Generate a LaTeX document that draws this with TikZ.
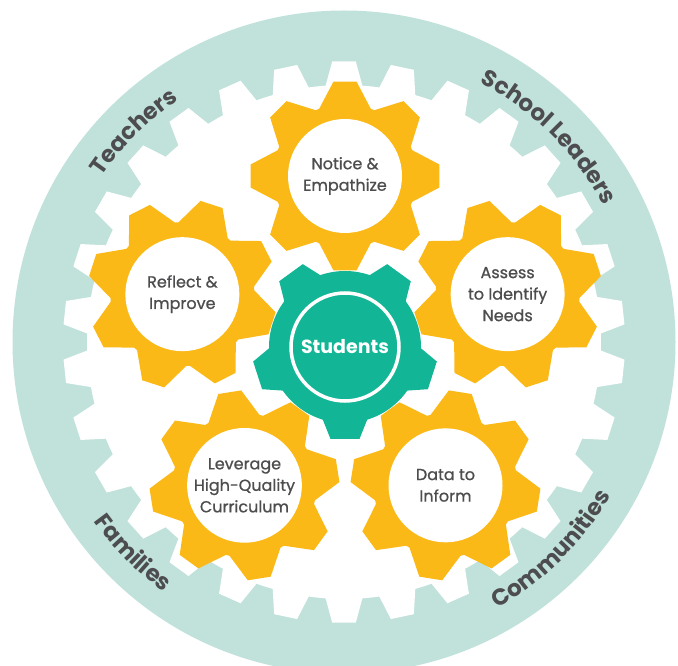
\documentclass[tikz,border=0pt]{standalone}
\usepackage{fontspec}
\setmainfont{Poppins}
\newfontfamily\gearfont{Poppins}[FakeBold=0.8]
\usetikzlibrary{calc,decorations.text}

\definecolor{ringteal}{RGB}{192,226,219}
\definecolor{gearyellow}{RGB}{251,185,23}
\definecolor{hubteal}{RGB}{18,182,150}
\definecolor{labelgrey}{RGB}{77,77,79}

\newcommand{\ringfont}{\fontsize{23}{27}\selectfont\bfseries}

% gear outline: colour, centre, teeth, tip radius, root radius, tip half angle, base half angle, first tooth
\newcommand{\gearshape}[8]{%
  \fill[#1, shift={(#2)}] ({#8-#7}:#5)
    \foreach \k in {1,...,#3} {
      -- ({#8+(\k-1)*360/#3-#7}:#5) -- ({#8+(\k-1)*360/#3-#6}:#4)
      -- ({#8+(\k-1)*360/#3+#6}:#4) -- ({#8+(\k-1)*360/#3+#7}:#5)
      arc[start angle={#8+(\k-1)*360/#3+#7}, delta angle={360/#3-2*#7}, radius=#5]
    } -- cycle;}

\begin{document}
\begin{tikzpicture}
      [
        x = 1pt, y = 1pt,
        gearhole/.style = {circle, fill=white, minimum size=114pt, inner sep=0pt, align=center,
            text=labelgrey, font=\gearfont\fontsize{16}{21.5}\selectfont},
        hubhole/.style = {circle, draw=white, line width=3.5pt, minimum size=108pt, inner sep=0pt,
            text=white, font=\fontsize{19}{22}\selectfont\bfseries},
        ringlabel/.style = {decorate, decoration={text along path, text align=center, text color=labelgrey}},
      ]

      \useasboundingbox (0,0) rectangle (678,665);
      \fill[white] (0,0) rectangle (678,665);

      \coordinate (ring) at (344,323);
      \coordinate (hub) at (345,318);
      \coordinate (notice) at ($(hub)+(90:171)$);
      \coordinate (assess) at ($(hub)+(18:171)$);
      \coordinate (reflect) at ($(hub)+(162:171)$);
      \coordinate (leverage) at ($(hub)+(234:171)$);
      \coordinate (data) at ($(hub)+(306:171)$);

      % outer band and big white gear
      \fill[ringteal] (ring) circle[radius=331.5];
      \gearshape{white}{ring}{30}{281}{257}{2.4}{4.1}{90}

      % yellow gears, one tooth towards the hub
      \gearshape{gearyellow}{notice}{8}{95}{72}{7}{21}{270}
      \gearshape{gearyellow}{assess}{8}{95}{72}{7}{21}{198}
      \gearshape{gearyellow}{reflect}{8}{95}{72}{7}{21}{342}
      \gearshape{gearyellow}{leverage}{8}{95}{72}{7}{21}{54}
      \gearshape{gearyellow}{data}{8}{95}{72}{7}{21}{126}

      % centre gear
      \gearshape{hubteal}{hub}{5}{93}{76}{9}{17}{270}

      \node[gearhole] (noticetext) at (notice) {Notice \&\\Empathize};
      \node[gearhole] (assesstext) at (assess) {Assess\\to Identify\\Needs};
      \node[gearhole] (reflecttext) at (reflect) {Reflect \&\\Improve};
      \node[gearhole] (leveragetext) at (leverage) {Leverage\\High-Quality\\Curriculum};
      \node[gearhole] (datatext) at (data) {Data to\\Inform};
      \node[hubhole, fill=hubteal] (students) at (hub) {Students};

      % labels round the band
      \path[ringlabel, decoration={text={|\ringfont|Teachers}}]
        ($(ring)+(165:293)$) arc[start angle=165, end angle=105, radius=293];
      \path[ringlabel, decoration={text={|\ringfont|School Leaders}}]
        ($(ring)+(80:293)$) arc[start angle=80, end angle=10, radius=293];
      \path[ringlabel, decoration={text={|\ringfont|Families}}]
        ($(ring)+(195:308)$) arc[start angle=195, end angle=255, radius=308];
      \path[ringlabel, decoration={text={|\ringfont|Communities}}]
        ($(ring)+(280:308)$) arc[start angle=280, end angle=350, radius=308];

    \end{tikzpicture}
\end{document}
